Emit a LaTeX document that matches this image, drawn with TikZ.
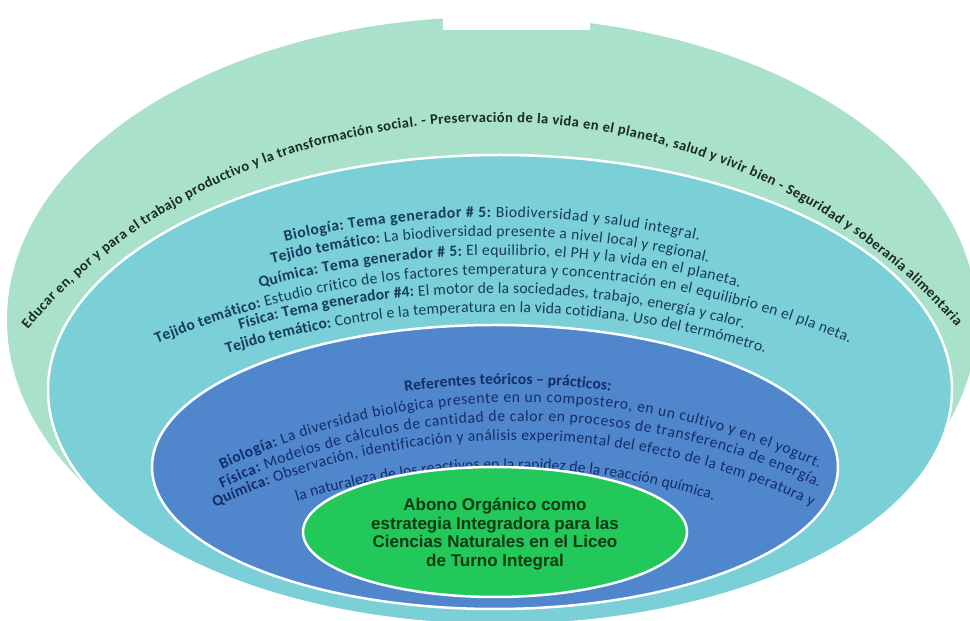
\documentclass[tikz,border=0pt]{standalone}
\usepackage{fontspec}
\setmainfont{Carlito}
\newfontfamily\arialb{Liberation Sans}
\usetikzlibrary{decorations.text}
\definecolor{outergreen}{HTML}{A9E1CA}
\definecolor{turq}{HTML}{7BCFD6}
\definecolor{bandblue}{HTML}{4F86CC}
\definecolor{coregreen}{HTML}{22C85A}
\definecolor{outertext}{HTML}{1B2A22}
\definecolor{turqtext}{HTML}{173A5E}
\definecolor{bluetext}{HTML}{142D66}
\definecolor{coretext}{HTML}{0E3A14}
\newcommand\outfont{\fontsize{14.5}{16}\selectfont\bfseries}
\newcommand\turqfont{\fontsize{15.6}{18}\selectfont}
\newcommand\bandfont{\fontsize{15.6}{18}\selectfont}
% #1 colour, #2 centre x, #3 apex y, #4 radius, #5 x start, #6 x end, #7 text
\newcommand\myarc[7]{%
  \pgfmathsetmacro\myaS{acos((#5-#2)/#4)}%
  \pgfmathsetmacro\myaE{acos((#6-#2)/#4)}%
  \path[decorate,decoration={text along path,text align=fit to path,text color=#1,text={#7{\phantom{.}}}}]
    ([shift={(#2,#3-#4)}]\myaS:#4pt) arc[start angle=\myaS,end angle=\myaE,radius=#4pt];%
}
\tikzset{ring/.style={fill=#1,draw=white,line width=2.5pt}}
\begin{document}
\begin{tikzpicture}[x=1pt,y=1pt]
\useasboundingbox (0,0) rectangle (970,621);
\clip (0,0) rectangle (970,621);
\fill[white] (0,0) rectangle (970,621);
% outer band
\fill[outergreen] (492,301) ellipse [x radius=485pt, y radius=303pt];
% turquoise band
\filldraw[ring=turq] (500,231) ellipse [x radius=452pt, y radius=235pt];
% outer arched text
\path[decorate,decoration={text along path,text align=fit to path,text color=outertext,
  text={|\outfont|Educar en, por y para el trabajo productivo y la transformación social. - Preservación de la vida en el planeta, salud y vivir bien - Seguridad y soberanía alimentaria{\phantom{.}}}}]
  ([shift={(493,-16)}]143.3:580pt and 515pt) arc[start angle=143.3,end angle=36.7,x radius=580pt,y radius=515pt];
% blue band
\filldraw[ring=bandblue] (495,154) ellipse [x radius=343pt, y radius=142pt];
% turquoise band text
\myarc{turqtext}{494}{404}{900}{285}{703}{|\turqfont\bfseries|Biología: Tema generador {\#} 5:|\turqfont| Biodiversidad y salud integral.}
\myarc{turqtext}{492}{385}{900}{272}{712}{|\turqfont\bfseries|Tejido temático:|\turqfont| La biodiversidad presente a nivel local y regional.}
\myarc{turqtext}{501}{366}{900}{260}{743}{|\turqfont\bfseries|Química: Tema generador {\#} 5:|\turqfont| El equilibrio, el PH y la vida en el planeta.}
\myarc{turqtext}{504.5}{347}{900}{157}{852}{|\turqfont\bfseries|Tejido temático:|\turqfont| Estudio crítico de los factores temperatura y concentración en el equilibrio en el pla neta.}
\myarc{turqtext}{493.5}{328}{900}{240}{747}{|\turqfont\bfseries|Física: Tema generador {\#}4:|\turqfont| El motor de la sociedades, trabajo, energía y calor.}
\myarc{turqtext}{497.5}{309}{900}{227}{768}{|\turqfont\bfseries|Tejido temático:|\turqfont| Control e la temperatura en la vida cotidiana. Uso del termómetro.}
% blue band text
\myarc{bluetext}{510}{237}{700}{405}{615}{|\bandfont\bfseries|Referentes teóricos – prácticos:}
\myarc{bluetext}{522}{219}{700}{222}{822}{|\bandfont\bfseries|Biología:|\bandfont| La diversidad biológica presente en un compostero, en un cultivo y en el yogurt.}
\myarc{bluetext}{522}{200}{700}{222}{822}{|\bandfont\bfseries|Física:|\bandfont| Modelos de cálculos de cantidad de calor en procesos de transferencia de energía.}
\myarc{bluetext}{515}{181}{700}{215}{815}{|\bandfont\bfseries|Química:|\bandfont| Observación, identificación y análisis experimental del efecto de la tem peratura y}
\myarc{bluetext}{507}{152}{700}{297}{717}{|\bandfont|la naturaleza de los reactivos en la rapidez de la reacción química.}
% core
\filldraw[ring=coregreen] (495,89) ellipse [x radius=192pt, y radius=65pt];
\node[align=center,text=coretext,font=\arialb\bfseries\fontsize{17}{18.7}\selectfont] (core) at (495,87)
  {Abono Orgánico como\\estrategia Integradora para las\\Ciencias Naturales en el Liceo\\de Turno Integral};
% white patch at top
\fill[white] (443,591) rectangle (590,621);
\end{tikzpicture}
\end{document}
